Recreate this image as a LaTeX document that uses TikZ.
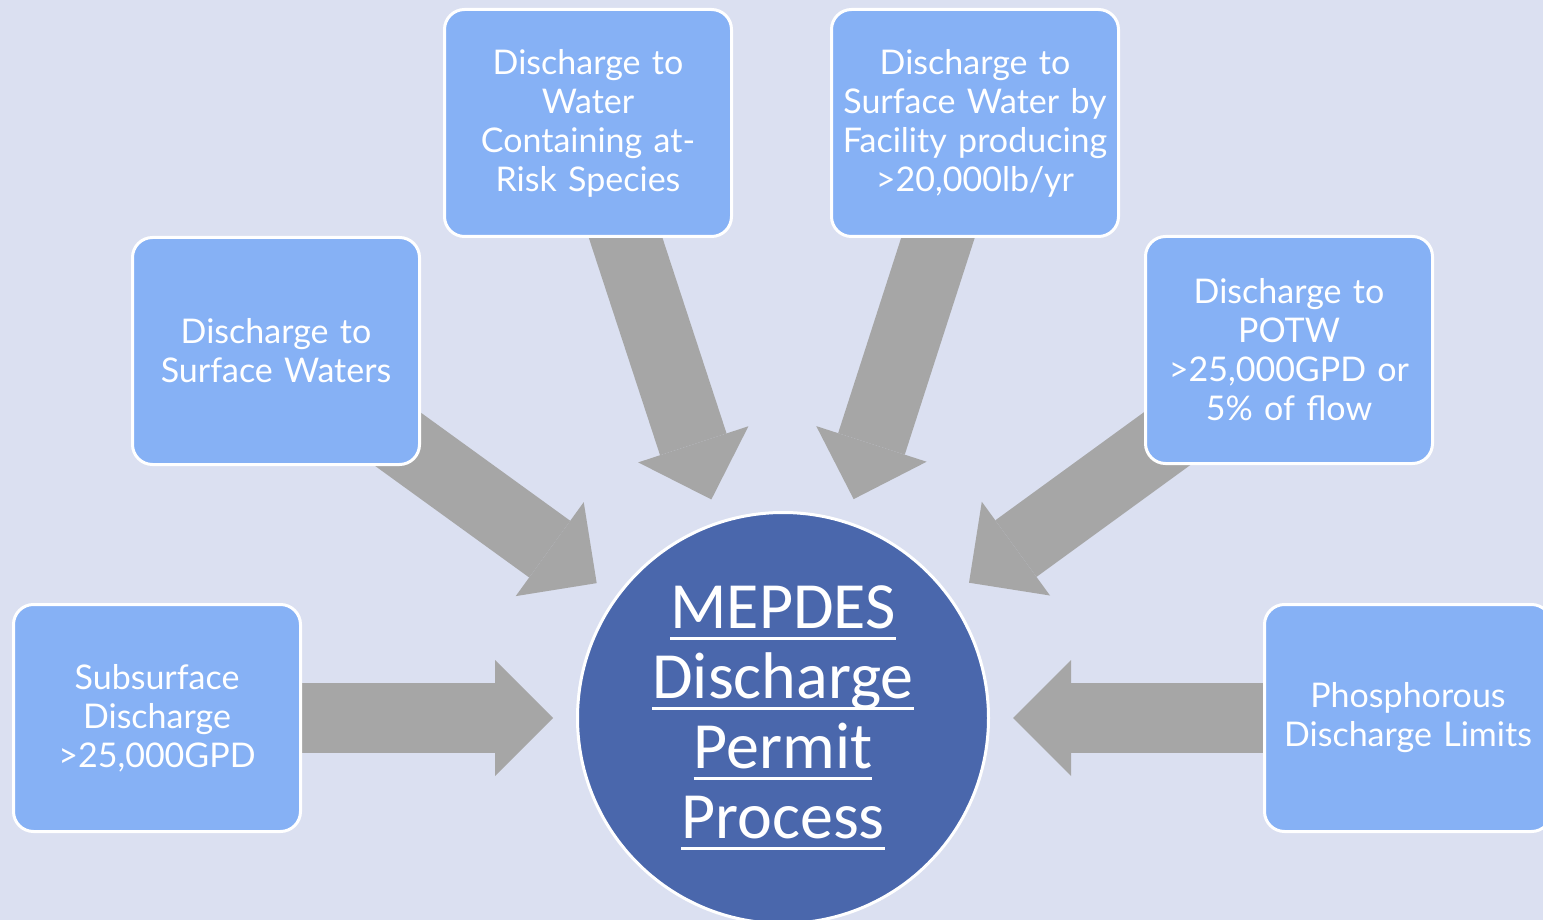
\documentclass[tikz,border=0pt]{standalone}
\usepackage{fontspec}
\setmainfont{Lato}
\newfontfamily\hubfont{Carlito}
\usetikzlibrary{arrows.meta,backgrounds}
\definecolor{pagebg}{RGB}{219,224,241}
\definecolor{boxblue}{RGB}{134,177,245}
\definecolor{hubblue}{RGB}{74,103,172}
\definecolor{flowgray}{RGB}{166,166,166}
% underline with a fixed distance below the baseline
\newcommand\hubline[1]{\setbox0\hbox{#1}\rlap{\rule[-11pt]{\wd0}{3pt}}\box0}

\begin{document}
\begin{tikzpicture}[x=1pt, y=-1pt,
		box/.style={draw=white, line width=3pt, fill=boxblue, rounded corners=20pt,
			minimum width=287pt, minimum height=227pt, text width=280pt, inner sep=0pt,
			align=center, text=white, font=\fontsize{34}{39}\selectfont},
		hub/.style={circle, draw=white, line width=3pt, fill=hubblue, minimum size=411pt,
			inner sep=0pt, align=center, text=white, font=\hubfont\fontsize{66}{70}\selectfont},
		flow/.style={draw=flowgray, line width=70pt, shorten >=23pt,
			-{Triangle[length=58pt, width=116pt, line width=0pt]}}]
	\useasboundingbox (0,0) rectangle (1543,920);
	\begin{scope}[on background layer]
		\fill[pagebg] (0,0) rectangle (1543,920);
	\end{scope}
	
	% Vòng tròn trung tâm
	\node[hub] (hub) at (783,718) {\hubline{MEPDES}\\\hubline{Discharge}\\\hubline{Permit}\\\hubline{Process}};
	
	% Sáu hộp điều kiện
	\node[box] (sub)  at (157,718)  {Subsurface\\Discharge\\>25,000GPD};
	\node[box] (surf) at (276,351)  {Discharge to\\Surface Waters};
	\node[box] (risk) at (588,123)  {Discharge to\\Water\\Containing at-\\Risk Species};
	\node[box] (fac)  at (975,123)  {Discharge to\\Surface Water by\\Facility producing\\>20,000lb/yr};
	\node[box] (potw) at (1289,350) {Discharge to\\POTW\\>25,000GPD or\\5\% of flow};
	\node[box] (phos) at (1408,718) {Phosphorous\\Discharge Limits};
	
	% Mũi tên vào vòng tròn
	\begin{scope}[on background layer]
		\foreach \b in {sub,surf,risk,fac,potw,phos}
			\draw[flow] (\b.center) -- (hub);
	\end{scope}
\end{tikzpicture}
\end{document}
